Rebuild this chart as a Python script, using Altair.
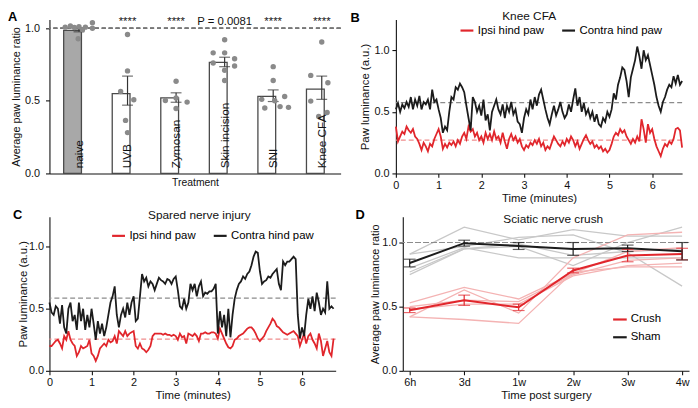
import altair as alt
import pandas as pd

FONT = "Liberation Sans"
RED = "#e1262c"
BLACK = "#1c1c1c"
DASH_GRAY = "#8c8c8c"
DASH_PINK = "#f08c8c"
AXC = "#111111"

# ---------------- Panel A data ----------------
treatments = ["naive", "UVB", "Zymosan", "Skin incision", "SNI", "Knee CFA"]
bar_means = [0.985, 0.55, 0.52, 0.765, 0.53, 0.58]
sem_lo = [0.975, 0.47, 0.49, 0.735, 0.495, 0.51]
sem_hi = [0.995, 0.67, 0.555, 0.80, 0.575, 0.67]
sig_labels = ["", "****", "****", "P = 0.0081", "****", "****"]

dot_values = {
    "naive": [1.007, 1.015, 1.005, 1.011, 0.99, 1.007, 0.927, 1.038, 1.0],
    "UVB": [0.956, 0.706, 0.564, 0.507, 0.365, 0.281],
    "Zymosan": [0.635, 0.502, 0.52, 0.491, 0.447],
    "Skin incision": [0.92, 0.83, 0.83, 0.79, 0.76, 0.74, 0.71, 0.64],
    "SNI": [0.735, 0.64, 0.51, 0.53, 0.50, 0.45, 0.46, 0.455],
    "Knee CFA": [0.905, 0.675, 0.624, 0.498, 0.392, 0.42],
}
dot_jitter = {
    "naive": [-0.9, -0.56, -0.3, 0.0, 0.23, 0.42, -0.05, 0.88, 0.88],
    "UVB": [0.0, 0.0, -0.45, 0.41, -0.13, 0.0],
    "Zymosan": [0.0, -0.7, 0.0, 0.72, 0.0],
    "Skin incision": [0.0, -0.75, 0.0, 0.65, -0.75, 0.65, 0.0, 0.0],
    "SNI": [0.0, 0.0, -0.75, 0.75, 0.1, -0.55, 0.45, 1.0],
    "Knee CFA": [0.0, -0.72, 0.4, -0.72, -0.2, 0.35],
}

# ---------------- Panel B data (Knee CFA, 0.05 min steps) ----------------
b_contra = [
    0.52, 0.57, 0.50, 0.56, 0.53, 0.58, 0.54, 0.62, 0.52, 0.60,
    0.55, 0.63, 0.52, 0.58, 0.56, 0.60, 0.52, 0.68, 0.58, 0.60,
    0.52, 0.45, 0.33, 0.38, 0.35, 0.50, 0.62, 0.60, 0.70, 0.68,
    0.73, 0.70, 0.66, 0.55, 0.45, 0.35, 0.62, 0.58, 0.50, 0.55,
    0.47, 0.60, 0.43, 0.48, 0.35, 0.50, 0.55, 0.60, 0.52, 0.48,
    0.56, 0.45, 0.55, 0.50, 0.58, 0.48, 0.52, 0.42, 0.40, 0.33,
    0.45, 0.52, 0.48, 0.60, 0.52, 0.62, 0.55, 0.64, 0.68, 0.60,
    0.52, 0.45, 0.40, 0.48, 0.55, 0.47, 0.52, 0.58, 0.50, 0.45,
    0.48, 0.56, 0.50, 0.60, 0.69, 0.55, 0.62, 0.50, 0.57, 0.48,
    0.52, 0.45, 0.50, 0.42, 0.48, 0.40, 0.38, 0.45, 0.42, 0.50,
    0.46, 0.52, 0.65, 0.60, 0.72, 0.78, 0.86, 0.84, 0.75, 0.62,
    0.78, 0.85, 0.92, 1.03, 0.95, 0.85, 1.00, 0.92, 0.96, 0.88,
    0.80, 0.72, 0.62, 0.55, 0.50, 0.58, 0.62, 0.68, 0.72, 0.70,
    0.79, 0.73, 0.80, 0.72, 0.75,
]
b_ipsi = [
    0.38, 0.26, 0.30, 0.34, 0.32, 0.38, 0.35, 0.33, 0.36, 0.30,
    0.28, 0.24, 0.19, 0.25, 0.22, 0.18, 0.24, 0.22, 0.28, 0.32,
    0.36, 0.30, 0.20, 0.24, 0.21, 0.25, 0.23, 0.26, 0.22, 0.27,
    0.24, 0.30, 0.33, 0.28, 0.38, 0.34, 0.36, 0.30, 0.33, 0.27,
    0.30, 0.25, 0.33, 0.28, 0.32, 0.27, 0.34, 0.28, 0.30, 0.25,
    0.33, 0.26, 0.20, 0.28, 0.32, 0.27, 0.30, 0.25, 0.28, 0.22,
    0.19, 0.23, 0.21, 0.25, 0.23, 0.27, 0.24, 0.28, 0.22, 0.25,
    0.19, 0.22, 0.20, 0.25, 0.30, 0.27, 0.24, 0.22, 0.26, 0.23,
    0.28, 0.25, 0.30, 0.27, 0.22, 0.26, 0.20, 0.24, 0.28, 0.31,
    0.27, 0.24, 0.26, 0.21, 0.23, 0.20, 0.22, 0.18, 0.20, 0.17,
    0.19, 0.24, 0.30, 0.33, 0.31, 0.36, 0.33, 0.35, 0.30, 0.27,
    0.24, 0.28, 0.25, 0.30, 0.26, 0.44, 0.36, 0.25, 0.40, 0.33,
    0.36, 0.28, 0.22, 0.18, 0.14, 0.20, 0.24, 0.22, 0.26, 0.24,
    0.28, 0.36, 0.37, 0.35, 0.21,
]
b_means = {"contra": 0.575, "ipsi": 0.27}

# ---------------- Panel C data (Spared nerve injury, 0.05 min steps) ----------------
c_contra = [
    0.55, 0.47, 0.45, 0.52, 0.50, 0.38, 0.53, 0.35, 0.30, 0.50,
    0.55, 0.40, 0.45, 0.33, 0.55, 0.40, 0.50, 0.33, 0.45, 0.35,
    0.50, 0.38, 0.25, 0.40, 0.30, 0.38, 0.28, 0.35, 0.45, 0.55,
    0.60, 0.68, 0.45, 0.35, 0.45, 0.50, 0.43, 0.55, 0.45, 0.55,
    0.60, 0.40, 0.42, 0.60, 0.78, 0.72, 0.75, 0.68, 0.72, 0.70,
    0.65, 0.70, 0.75, 0.73, 0.72, 0.70, 0.74, 0.73, 0.70, 0.74,
    0.76, 0.65, 0.52, 0.50, 0.58, 0.50, 0.55, 0.70, 0.65, 0.70,
    0.60, 0.68, 0.72, 0.60, 0.63, 0.62, 0.64, 0.64, 0.66, 0.70,
    0.30, 0.48, 0.35, 0.45, 0.28, 0.50, 0.27, 0.45, 0.58, 0.65,
    0.70, 0.72, 0.76, 0.74, 0.78, 0.80, 0.85, 0.92, 0.96, 0.95,
    0.80, 0.70, 0.72, 0.73, 0.76, 0.75, 0.78, 0.80, 0.82, 0.70,
    0.65, 0.88, 0.85, 0.88, 0.88, 0.90, 0.92, 0.90, 0.45, 0.26,
    0.35, 0.28, 0.45, 0.58, 0.50, 0.60, 0.48, 0.63, 0.55, 0.45,
    0.50, 0.47, 0.72, 0.50, 0.52, 0.50,
]
c_ipsi = [
    0.20, 0.20, 0.22, 0.24, 0.25, 0.22, 0.18, 0.28, 0.25, 0.32,
    0.25, 0.22, 0.20, 0.12, 0.15, 0.20, 0.18, 0.19, 0.20, 0.25,
    0.14, 0.12, 0.08, 0.12, 0.18, 0.20, 0.22, 0.20, 0.25, 0.23,
    0.24, 0.28, 0.22, 0.32, 0.30, 0.28, 0.32, 0.28, 0.30, 0.31,
    0.32, 0.20, 0.18, 0.22, 0.18, 0.17, 0.15, 0.17, 0.20, 0.28,
    0.30, 0.30, 0.30, 0.30, 0.29, 0.30, 0.29, 0.29, 0.28, 0.29,
    0.28, 0.25, 0.30, 0.27, 0.28, 0.22, 0.30, 0.29, 0.28, 0.30,
    0.28, 0.24, 0.30, 0.30, 0.31, 0.30, 0.30, 0.31, 0.31, 0.30,
    0.26, 0.34, 0.30, 0.26, 0.22, 0.19, 0.18, 0.20, 0.25, 0.26,
    0.28, 0.29, 0.30, 0.32, 0.34, 0.35, 0.35, 0.33, 0.30, 0.26,
    0.24, 0.26, 0.28, 0.32, 0.35, 0.38, 0.42, 0.40, 0.36, 0.35,
    0.33, 0.31, 0.30, 0.29, 0.30, 0.31, 0.32, 0.30, 0.28, 0.20,
    0.25, 0.30, 0.22, 0.28, 0.30, 0.25, 0.22, 0.18, 0.30, 0.24,
    0.12, 0.18, 0.24, 0.15, 0.12, 0.26,
]
c_means = {"contra": 0.585, "ipsi": 0.255}

# ---------------- Panel D data (Sciatic nerve crush) ----------------
times = ["6h", "3d", "1w", "2w", "3w", "4w"]
sham_mean = [0.84, 0.995, 0.973, 0.95, 0.955, 0.932]
sham_sem = [0.03, 0.023, 0.027, 0.05, 0.025, 0.068]
crush_mean = [0.472, 0.55, 0.495, 0.782, 0.898, 0.91]
crush_sem = [0.018, 0.04, 0.025, 0.018, 0.048, 0.045]
sham_animals = [
    [0.91, 1.12, 1.02, 1.10, 1.05, 1.05],
    [0.91, 0.97, 1.04, 1.06, 0.92, 0.66],
    [0.80, 0.96, 0.88, 0.88, 0.88, 0.88],
    [0.77, 0.95, 0.97, 0.82, 1.00, 1.12],
    [0.75, 0.95, 0.99, 0.90, 0.93, 0.95],
]
crush_animals = [
    [0.42, 0.63, 0.45, 0.88, 1.06, 1.08],
    [0.53, 0.65, 0.56, 0.76, 0.93, 0.96],
    [0.50, 0.55, 0.54, 0.75, 0.86, 0.88],
    [0.48, 0.52, 0.52, 0.74, 0.82, 0.84],
    [0.42, 0.40, 0.37, 0.77, 0.81, 0.81],
]

panel_names = {"B": "Knee CFA", "C": "Spared nerve injury", "D": "Sciatic nerve crush"}
ser_names = ["Ipsi hind paw", "Contra hind paw"]
grp_names = ["Crush", "Sham"]

PH = 156  # plot height of every panel

# ======================= Build tables =======================
df_bars = pd.DataFrame({"treatment": treatments, "mean": bar_means,
                        "lo": sem_lo, "hi": sem_hi, "sig": sig_labels})
rows = []
for tr in treatments:
    for v, j in zip(dot_values[tr], dot_jitter[tr]):
        rows.append({"treatment": tr, "value": v, "jit": j})
df_dots = pd.DataFrame(rows)


def ts_frame(ipsi, contra):
    n = len(contra)
    t = [round(i * 0.05, 2) for i in range(n)]
    return pd.DataFrame({
        "t": t + t,
        "v": list(ipsi) + list(contra),
        "series": [ser_names[0]] * n + [ser_names[1]] * n,
    })


df_b = ts_frame(b_ipsi, b_contra)
df_c = ts_frame(c_ipsi, c_contra)

ind_rows = []
for k, a in enumerate(sham_animals):
    for tm, v in zip(times, a):
        ind_rows.append({"animal": f"s{k}", "group": "Sham", "time": tm, "v": v})
for k, a in enumerate(crush_animals):
    for tm, v in zip(times, a):
        ind_rows.append({"animal": f"c{k}", "group": "Crush", "time": tm, "v": v})
df_ind = pd.DataFrame(ind_rows)
mean_rows = []
for tm, m, s in zip(times, crush_mean, crush_sem):
    mean_rows.append({"group": "Crush", "time": tm, "m": m, "lo": m - s, "hi": m + s})
for tm, m, s in zip(times, sham_mean, sham_sem):
    mean_rows.append({"group": "Sham", "time": tm, "m": m, "lo": m - s, "hi": m + s})
df_mean = pd.DataFrame(mean_rows)


def letter_title(letter, dx, offset):
    return alt.TitleParams(letter, anchor="start", frame="group", dx=dx, fontSize=13,
                           fontWeight="bold", offset=offset, color="#000")


# ======================= Panel A =======================
A_W = 295
xA = alt.X("treatment:N", sort=treatments,
           scale=alt.Scale(paddingInner=0.37, paddingOuter=0.183, align=0.8),
           axis=alt.Axis(title="Treatment", labels=False, ticks=False,
                         titlePadding=4, titleFontSize=10.5))


def yA(field):
    return alt.Y(field, scale=alt.Scale(domain=[0, 1.06], nice=False),
                 axis=alt.Axis(values=[0, 0.5, 1.0], format=".1f",
                               title="Average paw luminance ratio", titleFontSize=11,
                               labelPadding=6, titlePadding=3))


base_bars = alt.Chart(df_bars)
bars = base_bars.mark_bar(stroke="#4a4a4a", strokeWidth=1.3).encode(
    x=xA, y=yA("mean:Q"),
    fill=alt.condition(alt.datum.treatment == "naive", alt.value("#a8a8a8"), alt.value("white")),
)
ref1 = alt.Chart(df_bars).mark_rule(color="#777777", strokeDash=[4, 3], strokeWidth=1).encode(
    y=alt.datum(1.0))
dots = alt.Chart(df_dots).mark_circle(size=30, color="#8a8a8a", opacity=1).encode(
    x=xA, y=yA("value:Q"),
    xOffset=alt.XOffset("jit:Q", scale=alt.Scale(domain=[-1, 1])),
)
err_rule = base_bars.mark_rule(color="#333333", strokeWidth=1.2).encode(
    x=xA, y=yA("lo:Q"), y2="hi:Q")
err_lo = base_bars.mark_tick(color="#333333", size=11, thickness=1.2).encode(x=xA, y=yA("lo:Q"))
err_hi = base_bars.mark_tick(color="#333333", size=11, thickness=1.2).encode(x=xA, y=yA("hi:Q"))
sig = base_bars.mark_text(fontSize=11.5, baseline="middle", color="#111").encode(
    x=xA, y=alt.datum(1.045), text="sig:N")
lab = base_bars.mark_text(fontSize=12, angle=270, align="left", baseline="middle",
                          color="#111").encode(
    x=xA, y=alt.datum(0.035), text="treatment:N")

panelA = alt.layer(bars, ref1, err_rule, err_lo, err_hi, dots, sig, lab).properties(
    width=A_W, height=PH, title=letter_title("A", -42, -8.5))

# ======================= Panels B, C =======================
yticks = [0, 0.25, 0.5, 0.75, 1.0]
ylab_expr = "(datum.value == 0 || datum.value == 0.5 || datum.value == 1) ? format(datum.value, '.1f') : ''"


def trace_panel(df, means, xmax, ymax, width, name, name_x, name_y, letter, letter_dx,
                letter_off, leg_x, leg_y, label_pad, title_pad):
    x = alt.X("t:Q", scale=alt.Scale(domain=[0, xmax], nice=False),
              axis=alt.Axis(values=list(range(7)), format="d", title="Time (minutes)",
                            labelFlush=False, labelPadding=2, titlePadding=2))
    y = alt.Y("v:Q", scale=alt.Scale(domain=[0, ymax], nice=False),
              axis=alt.Axis(values=yticks, labelExpr=ylab_expr, title="Paw luminance (a.u.)",
                            labelPadding=label_pad, titlePadding=title_pad))
    lines = alt.Chart(df).mark_line(strokeWidth=1.8).encode(
        x=x, y=y,
        color=alt.Color("series:N", sort=ser_names,
                        scale=alt.Scale(domain=ser_names, range=[RED, BLACK]),
                        legend=alt.Legend(orient="none", legendX=leg_x, legendY=leg_y,
                                          direction="horizontal", title=None,
                                          symbolType="stroke", symbolSize=170,
                                          symbolStrokeWidth=2.2, labelFontSize=11.5,
                                          labelFont=FONT, labelOffset=3,
                                          columnPadding=13, padding=0)),
    )
    mdf = pd.DataFrame({"m": [means["contra"], means["ipsi"]], "k": ["contra", "ipsi"]})
    r_contra = alt.Chart(mdf).transform_filter(alt.datum.k == "contra").mark_rule(
        color=DASH_GRAY, strokeDash=[5, 3], strokeWidth=1.2).encode(y=alt.Y("m:Q"))
    r_ipsi = alt.Chart(mdf).transform_filter(alt.datum.k == "ipsi").mark_rule(
        color=DASH_PINK, strokeDash=[5, 3], strokeWidth=1.2).encode(y=alt.Y("m:Q"))
    ndf = pd.DataFrame({"name": [name]})
    ttl = alt.Chart(ndf).mark_text(fontSize=12, color="#111", baseline="middle").encode(
        x=alt.datum(name_x), y=alt.datum(name_y), text="name:N")
    return alt.layer(r_contra, r_ipsi, lines, ttl).properties(
        width=width, height=PH, title=letter_title(letter, letter_dx, letter_off))


panelB = trace_panel(df_b, b_means, 6.7, 1.25, 290, panel_names["B"], 3.12, 1.274,
                     "B", -46, -14.1, 64, 3, 3, 3)
panelC = trace_panel(df_c, c_means, 6.8, 1.24, 290, panel_names["C"], 3.56, 1.256,
                     "C", -37, -13, 62, 11, 2, 0)

# ======================= Panel D =======================
xD = alt.X("time:N", sort=times, scale=alt.Scale(type="point", padding=0.127),
           axis=alt.Axis(title="Time post surgery", labelAngle=0, labelPadding=2,
                         titlePadding=2))


def yD(field):
    return alt.Y(field, scale=alt.Scale(domain=[0, 1.2], nice=False),
                 axis=alt.Axis(values=yticks, labelExpr=ylab_expr,
                               title="Average paw luminance ratio", titleFontSize=11,
                               labelPadding=2, titlePadding=1))


colD = alt.Scale(domain=grp_names, range=[RED, BLACK])
ind_sham = alt.Chart(df_ind).transform_filter(alt.datum.group == "Sham").mark_line(
    color="#c8c8c8", strokeWidth=1.3).encode(x=xD, y=yD("v:Q"), detail="animal:N")
ind_crush = alt.Chart(df_ind).transform_filter(alt.datum.group == "Crush").mark_line(
    color="#f4b3b3", strokeWidth=1.3).encode(x=xD, y=yD("v:Q"), detail="animal:N")
refD = alt.Chart(df_mean).mark_rule(color=DASH_GRAY, strokeDash=[5, 3], strokeWidth=1.2).encode(
    y=alt.datum(1.0))
mean_lines = alt.Chart(df_mean).mark_line(strokeWidth=2).encode(
    x=xD, y=yD("m:Q"),
    color=alt.Color("group:N", scale=colD,
                    legend=alt.Legend(orient="none", legendX=212, legendY=96,
                                      direction="vertical", title=None,
                                      symbolType="stroke", symbolSize=190,
                                      symbolStrokeWidth=2.2, labelFontSize=11.5,
                                      labelFont=FONT, labelOffset=3, rowPadding=4,
                                      padding=0)))
e_rule = alt.Chart(df_mean).mark_rule(strokeWidth=1.2).encode(
    x=xD, y=yD("lo:Q"), y2="hi:Q", color=alt.Color("group:N", scale=colD, legend=None))
e_lo = alt.Chart(df_mean).mark_tick(size=12, thickness=1.2).encode(
    x=xD, y=yD("lo:Q"), color=alt.Color("group:N", scale=colD, legend=None))
e_hi = alt.Chart(df_mean).mark_tick(size=12, thickness=1.2).encode(
    x=xD, y=yD("hi:Q"), color=alt.Color("group:N", scale=colD, legend=None))
ttlD = alt.Chart(pd.DataFrame({"name": [panel_names["D"]]})).mark_text(
    fontSize=12, color="#111", baseline="middle", dx=35).encode(
    x=alt.datum("1w"), y=alt.datum(1.185), text="name:N")

panelD = alt.layer(ind_sham, ind_crush, refD, mean_lines, e_rule, e_lo, e_hi, ttlD).properties(
    width=290, height=PH, title=letter_title("D", -48, -9))

# ======================= Compose =======================
row1 = alt.hconcat(panelA, panelB, spacing=9).resolve_scale(color="independent").resolve_legend(color="independent")
row2 = alt.hconcat(panelC, panelD, spacing=18).resolve_scale(color="independent").resolve_legend(color="independent")

chart = alt.vconcat(row1, row2, spacing=4).resolve_scale(color="independent").resolve_legend(
    color="independent").properties(padding=0).configure(font=FONT).configure_view(
    stroke=None).configure_axis(
    domainColor=AXC, tickColor=AXC, labelColor=AXC, titleColor=AXC,
    labelFont=FONT, titleFont=FONT, labelFontSize=11, titleFontSize=11.5,
    titleFontWeight="normal", tickSize=4, grid=False, domainWidth=1.1, tickWidth=1.1,
).configure_title(font=FONT)

chart.save("out.html", embed_options={"renderer": "svg", "actions": False})
